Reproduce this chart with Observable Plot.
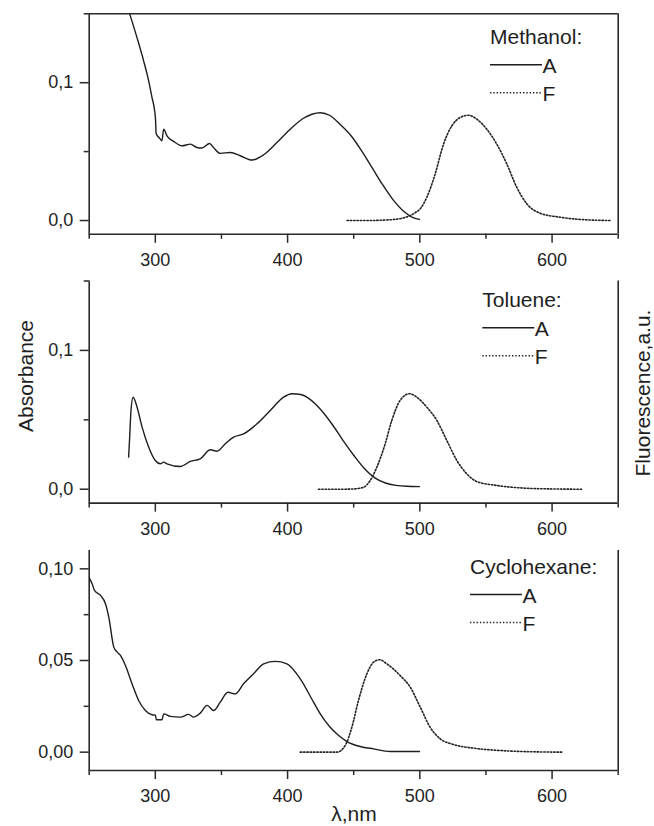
<!DOCTYPE html>
<html>
<head>
<meta charset="utf-8">
<script src="https://cdn.jsdelivr.net/npm/d3@7"></script>
<script src="https://cdn.jsdelivr.net/npm/@observablehq/plot@0.6"></script>
<style>
  body { margin: 0; background: #fff; }
  #fig { position: relative; width: 654px; height: 826px; background: #fff; font-family: "Liberation Sans", Arial, Helvetica, sans-serif; }
  #fig svg.panel { display: block; overflow: visible; }
  #overlay { position: absolute; left: 0; top: 0; pointer-events: none; }
</style>
</head>
<body>
<div id="fig"></div>
<script>
// ---------- data (wavelength nm, value) ----------
const methanolAbs = [[280.6,0.150],[286.2,0.1325],[291.2,0.1157],[295,0.1012],[297.5,0.0892],[299.5,0.0795],[300.2,0.0723],[300.6,0.0631],[303,0.0600],[305,0.0578],[306.3,0.0663],[308.8,0.0615],[313.8,0.0574],[320.2,0.0542],[326.5,0.0554],[331.5,0.0530],[335.3,0.0526],[341,0.0559],[344,0.0530],[349.1,0.0487],[356.7,0.0494],[364.2,0.0470],[373.1,0.0439],[381.9,0.0477],[391.9,0.0566],[402,0.0663],[412,0.0742],[418.4,0.0771],[424.7,0.0782],[432,0.0762],[440,0.0695],[448,0.0615],[456,0.0505],[464,0.0382],[472,0.0258],[480,0.0148],[488,0.0065],[494,0.0025],[499.7,0.0008]];
const methanolFl = [[445,0],[460,0],[475,0.0004],[482.6,0.0010],[488,0.0020],[492.7,0.0036],[497,0.0060],[500.3,0.0085],[505.3,0.0169],[511.6,0.0338],[517.9,0.0554],[524.2,0.0687],[530.5,0.0747],[536.8,0.0764],[543.1,0.0735],[550.6,0.0663],[558.2,0.0554],[565.8,0.0410],[573.3,0.0241],[580.9,0.0121],[591,0.0053],[606,0.0024],[626,0.0005],[645,0]];

const tolueneAbs = [[279.8,0.0231],[280.6,0.0375],[281.6,0.0567],[283.2,0.0663],[286.2,0.0591],[290,0.0447],[295,0.0303],[300,0.0207],[303.8,0.0183],[306.3,0.0195],[308.8,0.0183],[318.9,0.0164],[326.5,0.0200],[334,0.0219],[341.6,0.0284],[346.6,0.0274],[352.9,0.0327],[359.2,0.0375],[366.7,0.0399],[376.9,0.0471],[386.9,0.0567],[397,0.0663],[403.3,0.0688],[410,0.0682],[416,0.0655],[422,0.0605],[428,0.0540],[435,0.0450],[442,0.0350],[450,0.0245],[458,0.0150],[466,0.0082],[474,0.0045],[482,0.0028],[490,0.0021],[499.7,0.0019]];
const tolueneFl = [[423.4,0],[440,0],[450,0.0002],[457.4,0.0014],[462.5,0.0063],[467.5,0.0159],[473.8,0.0327],[478.8,0.0495],[485.1,0.0640],[492.1,0.0688],[497.7,0.0663],[505.3,0.0591],[512.9,0.0495],[520.4,0.0351],[528,0.0207],[535.5,0.0111],[543.1,0.0055],[558.2,0.0027],[580.9,0.0007],[600,0.0002],[622.9,0]];

const cyclohexaneAbs = [[250,0.0951],[252.2,0.0919],[254,0.0882],[258.5,0.0855],[262.3,0.0810],[264.8,0.0737],[268.6,0.0573],[271.1,0.0546],[273.6,0.0528],[277.4,0.0473],[282.4,0.0373],[287.4,0.0282],[292.5,0.0227],[297.5,0.0204],[300,0.0202],[300.8,0.0177],[305,0.0177],[306.3,0.0209],[311.4,0.0195],[318.9,0.0191],[325.2,0.0206],[329,0.0191],[334,0.0213],[339.1,0.0255],[344.1,0.0227],[349.1,0.0273],[354.9,0.0327],[360.5,0.0318],[366.7,0.0373],[374.3,0.0428],[381.9,0.0482],[390.7,0.0495],[399.5,0.0482],[409.6,0.0400],[419.6,0.0273],[424.7,0.0209],[432.2,0.0136],[438,0.0095],[444.9,0.0058],[454.9,0.0031],[465,0.0018],[477.6,0.0004],[499.7,0.0004]];
const cyclohexaneFl = [[409.6,0],[437.3,0],[443.6,0.0037],[448.6,0.0136],[453.6,0.0282],[460,0.0428],[465,0.0491],[469.5,0.0504],[475,0.0482],[485.1,0.0418],[492.7,0.0355],[500.3,0.0246],[507.8,0.0136],[515.4,0.0073],[525.4,0.0042],[540.5,0.0022],[560.7,0.0009],[580,0.0003],[607.8,0]];

const solvents = ["Methanol:", "Toluene:", "Cyclohexane:"];
const legendLabels = ["A", "F"];
const xDomain = [250, 650];
const xTicks = [300, 400, 500, 600];
const xMinorTicks = [250, 350, 450, 550, 650];
const yTicksAF = [0, 0.1];
const yMinorAF = [0.05, 0.15];
const yTicksC = [0, 0.05, 0.10];
const yMinorC = [0.025, 0.075];
const xLabel = "λ,nm";
const yLabelLeft = "Absorbance";
const yLabelRight = "Fluorescence,a.u.";

// ---------- layout ----------
const FONT = '"Liberation Sans", Arial, Helvetica, sans-serif';
const INK = "#1e1e1e";
const AXIS = "#2a2a2a";
const DOTS = "1.4,1.9";

const panels = [
  {abs: methanolAbs, fl: methanolFl, name: solvents[0], yDomain: [-0.01, 0.15], yTicks: yTicksAF, yMinor: yMinorAF, fmt: ".1f",
   height: 268, marginTop: 13.3, marginBottom: 34.2, topBorder: true, legend: {x: 490, y: 44.3}},
  {abs: tolueneAbs, fl: tolueneFl, name: solvents[1], yDomain: [-0.01, 0.15], yTicks: yTicksAF, yMinor: yMinorAF, fmt: ".1f",
   height: 269, marginTop: 12.5, marginBottom: 34.4, topBorder: false, legend: {x: 482.3, y: 307.3}},
  {abs: cyclohexaneAbs, fl: cyclohexaneFl, name: solvents[2], yDomain: [-0.01, 0.11], yTicks: yTicksC, yMinor: yMinorC, fmt: ".2f",
   height: 289, marginTop: 13, marginBottom: 56, topBorder: false, legend: {x: 470, y: 574}}
];

const fig = document.getElementById("fig");

for (const p of panels) {
  const f = d3.format(p.fmt);
  const marks = [
    Plot.ruleX(xDomain, {stroke: AXIS, strokeWidth: 1.6}),
    Plot.ruleY([p.yDomain[0]], {stroke: AXIS, strokeWidth: 1.6}),
    p.topBorder ? Plot.ruleY([p.yDomain[1]], {stroke: AXIS, strokeWidth: 1.6}) : null,
    Plot.axisX(xTicks, {tickSize: 9, tickPadding: 10, tickFormat: d => String(d), label: null, stroke: AXIS, strokeWidth: 1.5, fill: INK, fontSize: 18}),
    Plot.axisX(xMinorTicks, {tickSize: 5, tickFormat: () => "", label: null, stroke: AXIS, strokeWidth: 1.5}),
    Plot.axisY(p.yTicks, {tickSize: 9, tickPadding: 7, tickFormat: d => f(d).replace(".", ","), label: null, stroke: AXIS, strokeWidth: 1.5, fill: INK, fontSize: 18}),
    Plot.axisY(p.yMinor, {tickSize: 5, tickFormat: () => "", label: null, stroke: AXIS, strokeWidth: 1.5}),
    Plot.line(p.fl, {x: d => d[0], y: d => d[1], stroke: "#222", strokeWidth: 1.6, strokeDasharray: DOTS, curve: "monotone-x", clip: true}),
    Plot.line(p.abs, {x: d => d[0], y: d => d[1], stroke: INK, strokeWidth: 1.4, curve: "monotone-x", clip: true})
  ];
  const svg = Plot.plot({
    width: 654,
    height: p.height,
    marginLeft: 88.7,
    marginRight: 36.3,
    marginTop: p.marginTop,
    marginBottom: p.marginBottom,
    style: {fontFamily: FONT, fontSize: "18px", color: INK, background: "none", overflow: "visible"},
    x: {domain: xDomain},
    y: {domain: p.yDomain},
    marks
  });
  svg.classList.add("panel");
  fig.appendChild(svg);
}

// ---------- overlay: legends and axis titles ----------
const ov = d3.select(fig).append("svg")
  .attr("id", "overlay")
  .attr("width", 654).attr("height", 826)
  .style("font-family", FONT)
  .attr("fill", INK);

for (const p of panels) {
  const {x, y} = p.legend;
  const g = ov.append("g").attr("font-size", 21);
  g.append("text").attr("x", x).attr("y", y).text(p.name);
  legendLabels.forEach((lab, i) => {
    const ly = y + 20.5 + i * 28;
    g.append("line").attr("x1", x).attr("x2", x + 52).attr("y1", ly).attr("y2", ly)
      .attr("stroke", i === 0 ? INK : "#222").attr("stroke-width", i === 0 ? 1.4 : 1.6)
      .attr("stroke-dasharray", i === 0 ? null : DOTS);
    g.append("text").attr("x", x + 52.5).attr("y", y + 29 + i * 28).text(lab);
  });
}

ov.append("text").attr("font-size", 21).attr("text-anchor", "middle")
  .attr("transform", "translate(33,376) rotate(-90)").text(yLabelLeft);
ov.append("text").attr("font-size", 21).attr("text-anchor", "middle")
  .attr("transform", "translate(650,393) rotate(-90)").text(yLabelRight);
ov.append("text").attr("font-size", 21).attr("text-anchor", "middle")
  .attr("x", 354).attr("y", 821).text(xLabel);
</script>
</body>
</html>
